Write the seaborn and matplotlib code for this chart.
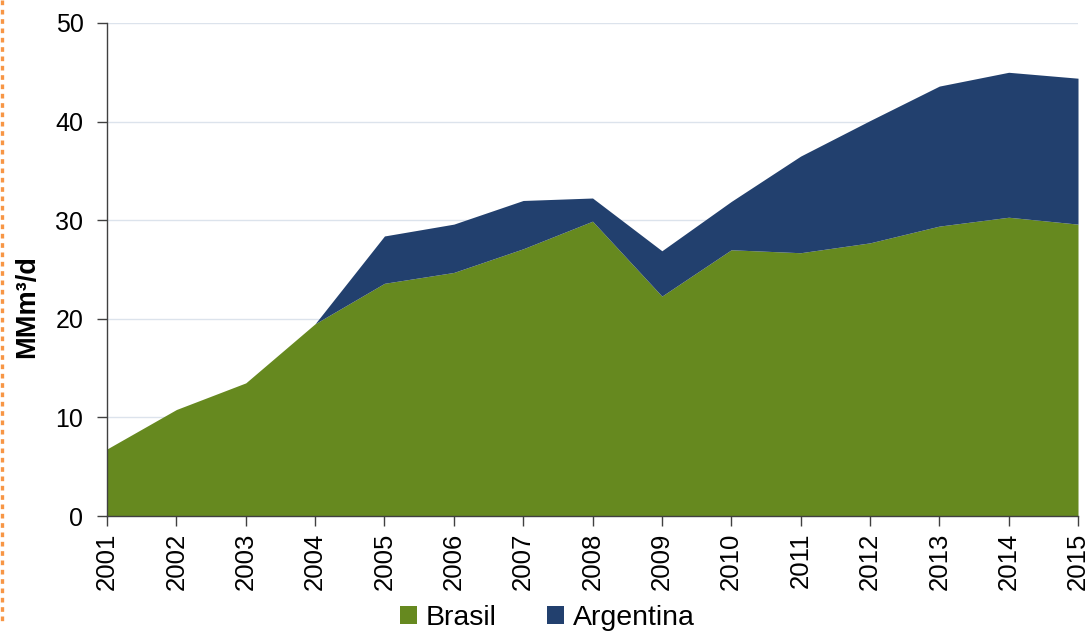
import matplotlib
matplotlib.use("Agg")
import matplotlib.pyplot as plt
from matplotlib.lines import Line2D
from matplotlib.patches import Patch
import seaborn as sns
import pandas as pd

years = [2001, 2002, 2003, 2004, 2005, 2006, 2007, 2008, 2009, 2010, 2011, 2012, 2013, 2014, 2015]
brasil = [6.8, 10.8, 13.5, 19.5, 23.6, 24.7, 27.1, 29.9, 22.3, 27.0, 26.7, 27.7, 29.4, 30.3, 29.6]
argentina = [0.0, 0.0, 0.0, 0.0, 4.8, 4.9, 4.9, 2.35, 4.6, 4.9, 9.8, 12.4, 14.2, 14.7, 14.8]
series_names = ["Brasil", "Argentina"]
colors = ["#66891F", "#22406E"]
y_label = "MMm³/d"

df = pd.DataFrame({"year": years, "Brasil": brasil, "Argentina": argentina})

sns.set_theme(style="white")
plt.rcParams["font.family"] = ["Liberation Sans", "DejaVu Sans"]
plt.rcParams["text.color"] = "black"
plt.rcParams["axes.labelcolor"] = "black"

fig = plt.figure(figsize=(10.9, 6.35), dpi=100)
ax = fig.add_axes([0.0982, 0.1874, 0.8908, 0.7764])

ax.stackplot(df["year"], df["Brasil"], df["Argentina"], colors=colors,
             labels=series_names, linewidth=0, zorder=2)

ax.set_xlim(2001, 2015)
ax.set_ylim(0, 50)
ax.set_xticks(years)
ax.set_xticklabels([str(y) for y in years], rotation=90)
ax.set_yticks([0, 10, 20, 30, 40, 50])
ax.yaxis.grid(True, color="#DCE3EC", linewidth=1.0, zorder=0)
ax.set_axisbelow(True)
sns.despine(ax=ax, top=True, right=True)
for s in ["left", "bottom"]:
    ax.spines[s].set_color("#404040")
    ax.spines[s].set_linewidth(1.0)
ax.tick_params(axis="both", which="major", direction="out", length=7, width=1,
               color="#404040", labelcolor="black", left=True, bottom=True)
ax.tick_params(axis="y", pad=10, labelsize=18)
ax.tick_params(axis="x", pad=5, labelsize=18.5)
ax.set_ylabel(y_label, fontsize=19.5, fontweight="bold", color="black")
ax.yaxis.set_label_coords(-0.069, 0.424)
ax.set_xlabel("")

handles = [Patch(facecolor=c, edgecolor="none") for c in colors]
leg = fig.legend(handles, series_names, loc="center", bbox_to_anchor=(0.502, 0.027),
                 ncol=2, frameon=False, fontsize=20.5, handlelength=0.62, handleheight=0.62,
                 handletextpad=0.3, columnspacing=1.75, borderpad=0)
for t in leg.get_texts():
    t.set_color("black")

fig.add_artist(Line2D([0.002, 0.002], [1.0, 1 - 622 / 635], transform=fig.transFigure,
                      color="#F79646", linewidth=2.4, linestyle=(0, (1.4, 1.4))))

fig.savefig("out.png", dpi=100)
